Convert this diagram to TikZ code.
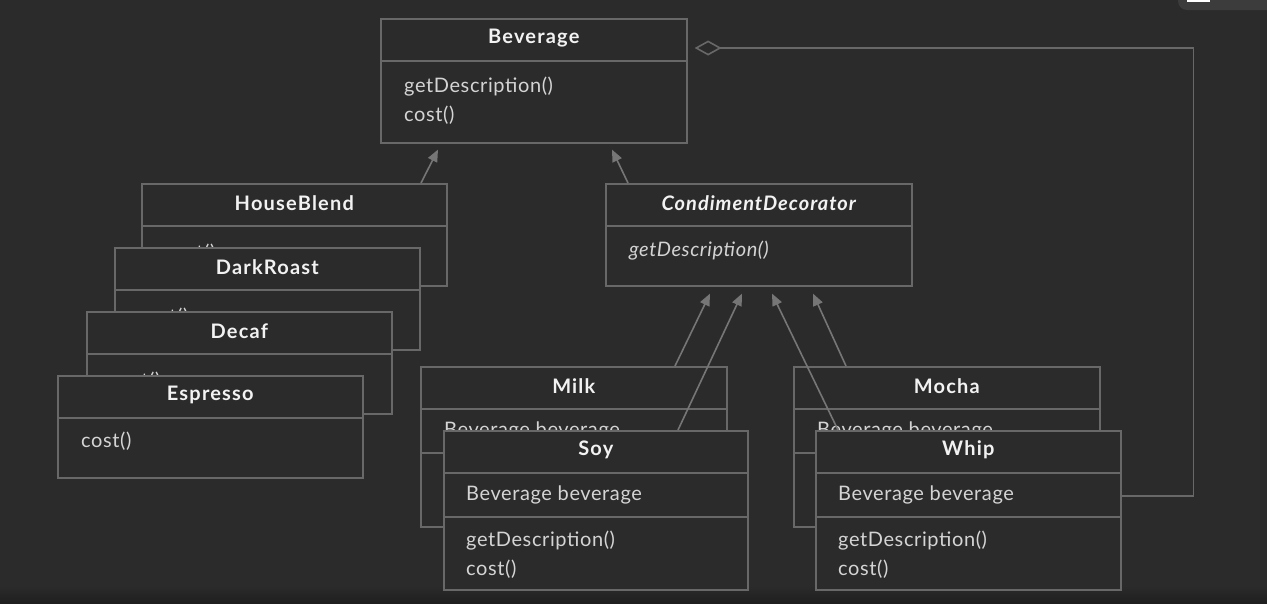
\documentclass[tikz,border=0pt]{standalone}
\usepackage{fontspec}
\setmainfont{Lato}[LetterSpace=3, BoldFeatures={LetterSpace=6}, BoldItalicFeatures={LetterSpace=5}]
\usetikzlibrary{positioning,arrows.meta}

\definecolor{bg}{HTML}{2B2B2B}
\definecolor{edgegray}{HTML}{686868}
\definecolor{arrowgray}{HTML}{767676}
\definecolor{titlewhite}{HTML}{F2F2F2}
\definecolor{membergray}{HTML}{D4D4D4}
\definecolor{uigray}{HTML}{3C3C3C}

\begin{document}
\begin{tikzpicture}[x=1pt, y=-1pt,
class_box/.style={rectangle, draw=edgegray, fill=bg, line width=1.6pt, anchor=north west, inner sep=0pt, minimum width=305pt, minimum height=#1},
title_text/.style={font=\bfseries\fontsize{20}{22}\selectfont, text=titlewhite, inner sep=0pt},
member_text/.style={anchor=west, align=left, font=\fontsize{20}{29}\selectfont, text=membergray, inner sep=0pt},
divider/.style={draw=edgegray, line width=1.6pt},
out_arrow/.style={-{Triangle[length=12pt,width=10pt]}, draw=arrowgray, line width=1.6pt},
agg_arrow/.style={-{Diamond[open,length=27pt,width=15pt]}, draw=edgegray, line width=1.6pt}
]
\useasboundingbox (0,0) rectangle (1267,603);
\fill[bg] (0,0) rectangle (1267,603);
\shade[top color=bg, bottom color=black!88] (0,586) rectangle (1267,603);
\fill[uigray, rounded corners=9pt] (1178,-12) rectangle (1290,10);
\fill[white] (1187,0) rectangle (1210,1.5);

% \node[class_box=height](name) at (left,top) {} then dividers, title and members
\node[class_box=124pt, minimum width=306pt](beverage) at (380,18) {};
\draw[divider] ([yshift=-43pt]beverage.north west) -- ([yshift=-43pt]beverage.north east);
\node[title_text](beverage_name) at ([yshift=-20pt]beverage.north) {Beverage};
\node[member_text](beverage_ops) at ([xshift=24pt,yshift=-83pt]beverage.north west) {getDescription()\\cost()};

% concrete beverages, back to front
\node[class_box=102pt](house_blend) at (141,183) {};
\draw[divider] ([yshift=-43pt]house_blend.north west) -- ([yshift=-43pt]house_blend.north east);
\node[title_text](house_blend_name) at ([yshift=-20pt]house_blend.north) {HouseBlend};
\node[member_text](house_blend_ops) at ([xshift=24pt,yshift=-70pt]house_blend.north west) {cost()};

\node[class_box=102pt](dark_roast) at (114,247) {};
\draw[divider] ([yshift=-43pt]dark_roast.north west) -- ([yshift=-43pt]dark_roast.north east);
\node[title_text](dark_roast_name) at ([yshift=-20pt]dark_roast.north) {DarkRoast};
\node[member_text](dark_roast_ops) at ([xshift=24pt,yshift=-70pt]dark_roast.north west) {cost()};

\node[class_box=102pt](decaf) at (86,311) {};
\draw[divider] ([yshift=-43pt]decaf.north west) -- ([yshift=-43pt]decaf.north east);
\node[title_text](decaf_name) at ([yshift=-20pt]decaf.north) {Decaf};
\node[member_text](decaf_ops) at ([xshift=24pt,yshift=-70pt]decaf.north west) {cost()};

\node[class_box=102pt](espresso) at (57,375) {};
\draw[divider] ([yshift=-43pt]espresso.north west) -- ([yshift=-43pt]espresso.north east);
\node[title_text](espresso_name) at ([yshift=-20pt]espresso.north) {Espresso};
\node[member_text](espresso_ops) at ([xshift=24pt,yshift=-66pt]espresso.north west) {cost()};

% abstract decorator
\node[class_box=102pt, minimum width=306pt](condiment_decorator) at (605,183) {};
\draw[divider] ([yshift=-43pt]condiment_decorator.north west) -- ([yshift=-43pt]condiment_decorator.north east);
\node[title_text, font=\bfseries\itshape\fontsize{20}{22}\selectfont](condiment_decorator_name) at ([yshift=-20pt]condiment_decorator.north) {CondimentDecorator};
\node[member_text, font=\itshape\fontsize{20}{29}\selectfont](condiment_decorator_ops) at ([xshift=24pt,yshift=-68pt]condiment_decorator.north west) {getDescription()};

% condiments, back to front (operations of Milk and Mocha are hidden)
\node[class_box=160pt, minimum width=306pt](milk) at (420,366) {};
\draw[divider] ([yshift=-43pt]milk.north west) -- ([yshift=-43pt]milk.north east);
\draw[divider] ([yshift=-87pt]milk.north west) -- ([yshift=-87pt]milk.north east);
\node[title_text](milk_name) at ([yshift=-20pt]milk.north) {Milk};
\node[member_text](milk_field) at ([xshift=24pt,yshift=-65pt]milk.north west) {Beverage beverage};

\node[class_box=159pt, minimum width=304pt](soy) at (443,430) {};
\draw[divider] ([yshift=-43pt]soy.north west) -- ([yshift=-43pt]soy.north east);
\draw[divider] ([yshift=-87pt]soy.north west) -- ([yshift=-87pt]soy.north east);
\node[title_text](soy_name) at ([yshift=-20pt]soy.north) {Soy};
\node[member_text](soy_field) at ([xshift=23pt,yshift=-65pt]soy.north west) {Beverage beverage};
\node[member_text](soy_ops) at ([xshift=23pt,yshift=-125pt]soy.north west) {getDescription()\\cost()};

\node[class_box=160pt, minimum width=306pt](mocha) at (793,366) {};
\draw[divider] ([yshift=-43pt]mocha.north west) -- ([yshift=-43pt]mocha.north east);
\draw[divider] ([yshift=-87pt]mocha.north west) -- ([yshift=-87pt]mocha.north east);
\node[title_text](mocha_name) at ([yshift=-20pt]mocha.north) {Mocha};
\node[member_text](mocha_field) at ([xshift=24pt,yshift=-65pt]mocha.north west) {Beverage beverage};

\node[class_box=159pt](whip) at (815,430) {};
\draw[divider] ([yshift=-43pt]whip.north west) -- ([yshift=-43pt]whip.north east);
\draw[divider] ([yshift=-87pt]whip.north west) -- ([yshift=-87pt]whip.north east);
\node[title_text](whip_name) at ([yshift=-20pt]whip.north) {Whip};
\node[member_text](whip_field) at ([xshift=23pt,yshift=-65pt]whip.north west) {Beverage beverage};
\node[member_text](whip_ops) at ([xshift=23pt,yshift=-125pt]whip.north west) {getDescription()\\cost()};

% inheritance
\draw[out_arrow](house_blend.north west) ++(280,0) -- ([xshift=58pt,yshift=-6pt]beverage.south west);
\draw[out_arrow]([xshift=23pt]condiment_decorator.north west) -- ([xshift=232pt,yshift=-6pt]beverage.south west);
\draw[out_arrow]([xshift=255pt]milk.north west) -- ([xshift=105pt,yshift=-7pt]condiment_decorator.south west);
\draw[out_arrow]([xshift=235pt]soy.north west) -- ([xshift=137pt,yshift=-7pt]condiment_decorator.south west);
\draw[out_arrow]([xshift=23pt]whip.north west) -- ([xshift=167pt,yshift=-7pt]condiment_decorator.south west);
\draw[out_arrow]([xshift=53pt]mocha.north west) -- ([xshift=208pt,yshift=-7pt]condiment_decorator.south west);

% aggregation
\coordinate(agg_end) at ([xshift=7pt,yshift=-30pt]beverage.north east);
\draw[agg_arrow]([yshift=14.5pt]whip.east) -| ([xshift=72pt]whip.east |- agg_end) -- (agg_end);

\end{tikzpicture}
\end{document}
